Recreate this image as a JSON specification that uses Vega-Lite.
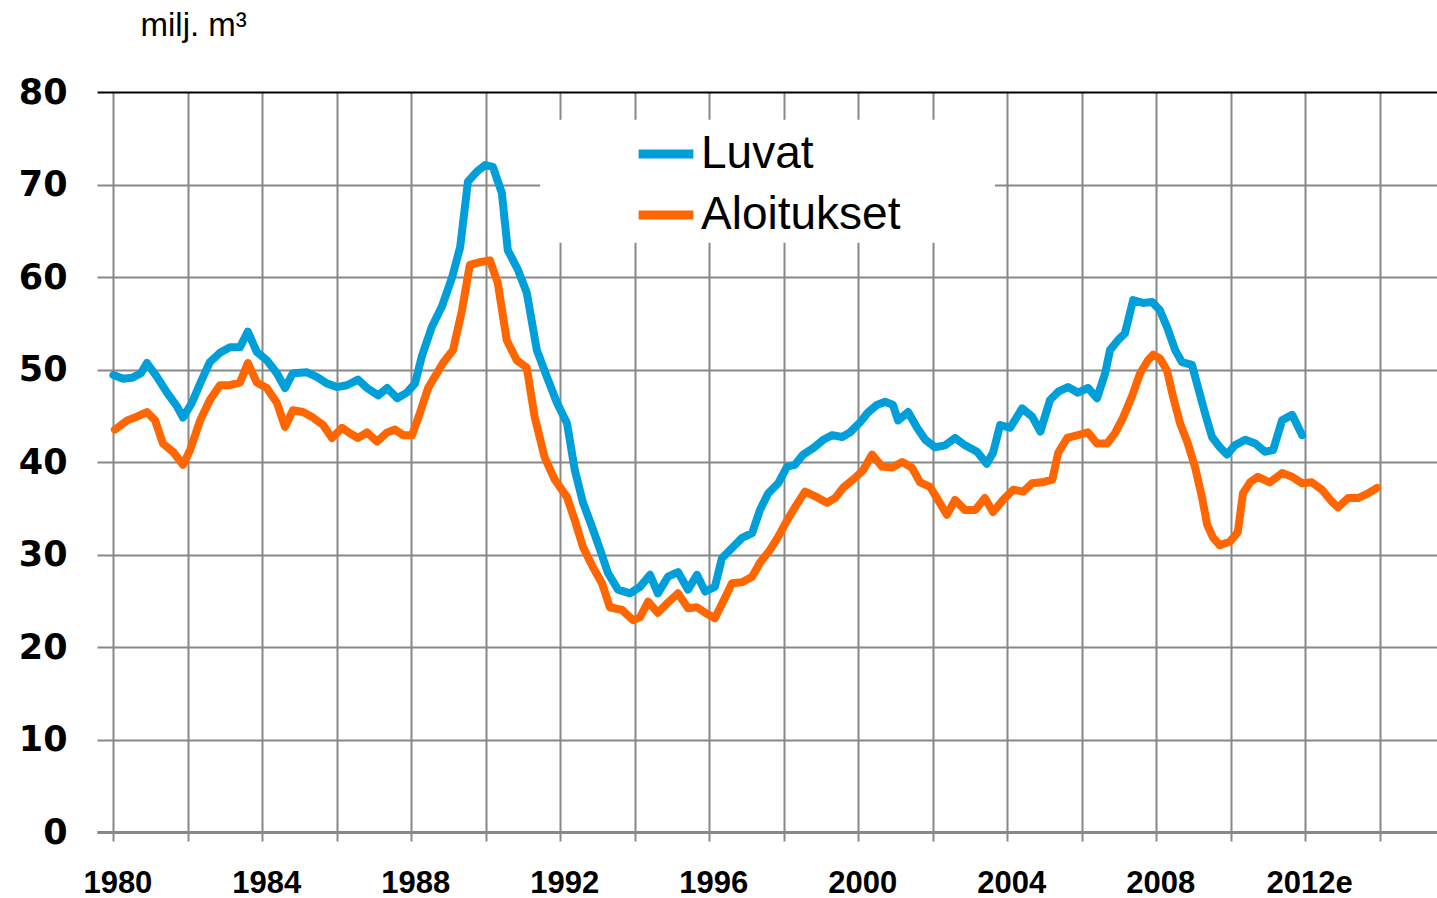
{
  "$schema": "https://vega.github.io/schema/vega-lite/v6.json",
  "width": 1340,
  "height": 740,
  "autosize": "none",
  "padding": {"left": 97, "top": 92, "right": 0, "bottom": 66},
  "background": "white",
  "config": {"view": {"stroke": null}},
  "layer": [
    {
      "data": {"values": [
        {"s":"Luvat","t":1980.00,"v":49.4},{"s":"Luvat","t":1980.26,"v":49.0},{"s":"Luvat","t":1980.50,"v":49.1},{"s":"Luvat","t":1980.74,"v":49.6},{"s":"Luvat","t":1980.90,"v":50.7},{"s":"Luvat","t":1981.17,"v":49.2},{"s":"Luvat","t":1981.44,"v":47.5},{"s":"Luvat","t":1981.71,"v":46.0},{"s":"Luvat","t":1981.87,"v":44.8},{"s":"Luvat","t":1982.11,"v":46.4},{"s":"Luvat","t":1982.33,"v":48.5},{"s":"Luvat","t":1982.59,"v":50.8},{"s":"Luvat","t":1982.86,"v":51.8},{"s":"Luvat","t":1983.13,"v":52.4},{"s":"Luvat","t":1983.40,"v":52.4},{"s":"Luvat","t":1983.61,"v":54.1},{"s":"Luvat","t":1983.85,"v":51.9},{"s":"Luvat","t":1984.12,"v":51.0},{"s":"Luvat","t":1984.39,"v":49.6},{"s":"Luvat","t":1984.61,"v":48.0},{"s":"Luvat","t":1984.82,"v":49.6},{"s":"Luvat","t":1985.20,"v":49.7},{"s":"Luvat","t":1985.46,"v":49.2},{"s":"Luvat","t":1985.73,"v":48.5},{"s":"Luvat","t":1986.00,"v":48.1},{"s":"Luvat","t":1986.27,"v":48.3},{"s":"Luvat","t":1986.57,"v":48.9},{"s":"Luvat","t":1986.81,"v":48.0},{"s":"Luvat","t":1987.11,"v":47.2},{"s":"Luvat","t":1987.35,"v":48.0},{"s":"Luvat","t":1987.62,"v":46.9},{"s":"Luvat","t":1987.88,"v":47.5},{"s":"Luvat","t":1988.10,"v":48.5},{"s":"Luvat","t":1988.28,"v":51.4},{"s":"Luvat","t":1988.55,"v":54.6},{"s":"Luvat","t":1988.82,"v":56.8},{"s":"Luvat","t":1989.09,"v":59.9},{"s":"Luvat","t":1989.31,"v":63.2},{"s":"Luvat","t":1989.52,"v":70.3},{"s":"Luvat","t":1989.76,"v":71.4},{"s":"Luvat","t":1989.98,"v":72.1},{"s":"Luvat","t":1990.19,"v":71.9},{"s":"Luvat","t":1990.43,"v":69.1},{"s":"Luvat","t":1990.59,"v":62.9},{"s":"Luvat","t":1990.86,"v":60.8},{"s":"Luvat","t":1991.10,"v":58.3},{"s":"Luvat","t":1991.37,"v":52.1},{"s":"Luvat","t":1991.64,"v":49.2},{"s":"Luvat","t":1991.91,"v":46.4},{"s":"Luvat","t":1992.18,"v":44.2},{"s":"Luvat","t":1992.39,"v":39.1},{"s":"Luvat","t":1992.61,"v":35.6},{"s":"Luvat","t":1992.85,"v":33.0},{"s":"Luvat","t":1993.07,"v":30.5},{"s":"Luvat","t":1993.28,"v":28.0},{"s":"Luvat","t":1993.55,"v":26.2},{"s":"Luvat","t":1993.87,"v":25.8},{"s":"Luvat","t":1994.14,"v":26.5},{"s":"Luvat","t":1994.41,"v":27.8},{"s":"Luvat","t":1994.62,"v":25.8},{"s":"Luvat","t":1994.89,"v":27.6},{"s":"Luvat","t":1995.16,"v":28.1},{"s":"Luvat","t":1995.43,"v":26.2},{"s":"Luvat","t":1995.67,"v":27.8},{"s":"Luvat","t":1995.89,"v":26.0},{"s":"Luvat","t":1996.15,"v":26.5},{"s":"Luvat","t":1996.34,"v":29.6},{"s":"Luvat","t":1996.61,"v":30.7},{"s":"Luvat","t":1996.88,"v":31.8},{"s":"Luvat","t":1997.15,"v":32.3},{"s":"Luvat","t":1997.36,"v":34.8},{"s":"Luvat","t":1997.58,"v":36.6},{"s":"Luvat","t":1997.85,"v":37.7},{"s":"Luvat","t":1998.09,"v":39.5},{"s":"Luvat","t":1998.30,"v":39.7},{"s":"Luvat","t":1998.52,"v":40.8},{"s":"Luvat","t":1998.79,"v":41.5},{"s":"Luvat","t":1999.06,"v":42.4},{"s":"Luvat","t":1999.30,"v":42.9},{"s":"Luvat","t":1999.57,"v":42.7},{"s":"Luvat","t":1999.78,"v":43.2},{"s":"Luvat","t":2000.05,"v":44.3},{"s":"Luvat","t":2000.27,"v":45.4},{"s":"Luvat","t":2000.51,"v":46.2},{"s":"Luvat","t":2000.72,"v":46.5},{"s":"Luvat","t":2000.93,"v":46.2},{"s":"Luvat","t":2001.07,"v":44.5},{"s":"Luvat","t":2001.34,"v":45.4},{"s":"Luvat","t":2001.58,"v":43.7},{"s":"Luvat","t":2001.80,"v":42.4},{"s":"Luvat","t":2002.06,"v":41.6},{"s":"Luvat","t":2002.33,"v":41.8},{"s":"Luvat","t":2002.60,"v":42.6},{"s":"Luvat","t":2002.87,"v":41.8},{"s":"Luvat","t":2003.19,"v":41.1},{"s":"Luvat","t":2003.45,"v":39.8},{"s":"Luvat","t":2003.62,"v":41.0},{"s":"Luvat","t":2003.81,"v":44.0},{"s":"Luvat","t":2004.08,"v":43.7},{"s":"Luvat","t":2004.40,"v":45.8},{"s":"Luvat","t":2004.67,"v":44.9},{"s":"Luvat","t":2004.89,"v":43.3},{"s":"Luvat","t":2005.15,"v":46.7},{"s":"Luvat","t":2005.37,"v":47.6},{"s":"Luvat","t":2005.63,"v":48.1},{"s":"Luvat","t":2005.90,"v":47.5},{"s":"Luvat","t":2006.17,"v":48.0},{"s":"Luvat","t":2006.41,"v":46.9},{"s":"Luvat","t":2006.63,"v":49.6},{"s":"Luvat","t":2006.76,"v":52.1},{"s":"Luvat","t":2006.98,"v":53.2},{"s":"Luvat","t":2007.16,"v":53.9},{"s":"Luvat","t":2007.38,"v":57.5},{"s":"Luvat","t":2007.65,"v":57.2},{"s":"Luvat","t":2007.89,"v":57.3},{"s":"Luvat","t":2008.10,"v":56.4},{"s":"Luvat","t":2008.29,"v":54.6},{"s":"Luvat","t":2008.51,"v":52.1},{"s":"Luvat","t":2008.69,"v":50.8},{"s":"Luvat","t":2008.96,"v":50.5},{"s":"Luvat","t":2009.12,"v":48.1},{"s":"Luvat","t":2009.31,"v":45.3},{"s":"Luvat","t":2009.50,"v":42.7},{"s":"Luvat","t":2009.71,"v":41.6},{"s":"Luvat","t":2009.90,"v":40.8},{"s":"Luvat","t":2010.11,"v":41.8},{"s":"Luvat","t":2010.39,"v":42.4},{"s":"Luvat","t":2010.66,"v":42.0},{"s":"Luvat","t":2010.92,"v":41.1},{"s":"Luvat","t":2011.14,"v":41.3},{"s":"Luvat","t":2011.38,"v":44.5},{"s":"Luvat","t":2011.65,"v":45.1},{"s":"Luvat","t":2011.92,"v":42.9},
        {"s":"Aloitukset","t":1980.04,"v":43.5},{"s":"Aloitukset","t":1980.37,"v":44.5},{"s":"Aloitukset","t":1980.63,"v":44.9},{"s":"Aloitukset","t":1980.90,"v":45.4},{"s":"Aloitukset","t":1981.12,"v":44.5},{"s":"Aloitukset","t":1981.33,"v":42.0},{"s":"Aloitukset","t":1981.60,"v":41.1},{"s":"Aloitukset","t":1981.87,"v":39.7},{"s":"Aloitukset","t":1982.06,"v":41.3},{"s":"Aloitukset","t":1982.33,"v":44.5},{"s":"Aloitukset","t":1982.59,"v":46.7},{"s":"Aloitukset","t":1982.86,"v":48.3},{"s":"Aloitukset","t":1983.13,"v":48.3},{"s":"Aloitukset","t":1983.40,"v":48.6},{"s":"Aloitukset","t":1983.61,"v":50.7},{"s":"Aloitukset","t":1983.85,"v":48.6},{"s":"Aloitukset","t":1984.12,"v":48.0},{"s":"Aloitukset","t":1984.39,"v":46.4},{"s":"Aloitukset","t":1984.61,"v":43.8},{"s":"Aloitukset","t":1984.82,"v":45.6},{"s":"Aloitukset","t":1985.09,"v":45.4},{"s":"Aloitukset","t":1985.36,"v":44.8},{"s":"Aloitukset","t":1985.63,"v":44.0},{"s":"Aloitukset","t":1985.87,"v":42.6},{"s":"Aloitukset","t":1986.14,"v":43.7},{"s":"Aloitukset","t":1986.35,"v":43.1},{"s":"Aloitukset","t":1986.57,"v":42.6},{"s":"Aloitukset","t":1986.81,"v":43.2},{"s":"Aloitukset","t":1987.08,"v":42.2},{"s":"Aloitukset","t":1987.35,"v":43.2},{"s":"Aloitukset","t":1987.56,"v":43.5},{"s":"Aloitukset","t":1987.78,"v":42.9},{"s":"Aloitukset","t":1988.02,"v":42.9},{"s":"Aloitukset","t":1988.23,"v":45.3},{"s":"Aloitukset","t":1988.45,"v":48.0},{"s":"Aloitukset","t":1988.85,"v":50.7},{"s":"Aloitukset","t":1989.12,"v":52.1},{"s":"Aloitukset","t":1989.36,"v":56.4},{"s":"Aloitukset","t":1989.57,"v":61.3},{"s":"Aloitukset","t":1989.84,"v":61.6},{"s":"Aloitukset","t":1990.11,"v":61.8},{"s":"Aloitukset","t":1990.32,"v":59.4},{"s":"Aloitukset","t":1990.56,"v":53.2},{"s":"Aloitukset","t":1990.83,"v":51.0},{"s":"Aloitukset","t":1991.10,"v":50.2},{"s":"Aloitukset","t":1991.31,"v":44.9},{"s":"Aloitukset","t":1991.58,"v":40.5},{"s":"Aloitukset","t":1991.85,"v":38.1},{"s":"Aloitukset","t":1992.18,"v":36.2},{"s":"Aloitukset","t":1992.39,"v":33.7},{"s":"Aloitukset","t":1992.61,"v":30.8},{"s":"Aloitukset","t":1992.88,"v":28.6},{"s":"Aloitukset","t":1993.12,"v":26.9},{"s":"Aloitukset","t":1993.33,"v":24.3},{"s":"Aloitukset","t":1993.66,"v":24.0},{"s":"Aloitukset","t":1993.95,"v":22.9},{"s":"Aloitukset","t":1994.14,"v":23.2},{"s":"Aloitukset","t":1994.36,"v":24.9},{"s":"Aloitukset","t":1994.62,"v":23.7},{"s":"Aloitukset","t":1994.89,"v":24.8},{"s":"Aloitukset","t":1995.16,"v":25.8},{"s":"Aloitukset","t":1995.43,"v":24.2},{"s":"Aloitukset","t":1995.67,"v":24.3},{"s":"Aloitukset","t":1995.89,"v":23.7},{"s":"Aloitukset","t":1996.15,"v":23.1},{"s":"Aloitukset","t":1996.37,"v":24.9},{"s":"Aloitukset","t":1996.61,"v":26.9},{"s":"Aloitukset","t":1996.88,"v":27.0},{"s":"Aloitukset","t":1997.15,"v":27.6},{"s":"Aloitukset","t":1997.36,"v":29.1},{"s":"Aloitukset","t":1997.63,"v":30.5},{"s":"Aloitukset","t":1997.85,"v":31.9},{"s":"Aloitukset","t":1998.09,"v":33.7},{"s":"Aloitukset","t":1998.30,"v":35.1},{"s":"Aloitukset","t":1998.57,"v":36.8},{"s":"Aloitukset","t":1998.89,"v":36.2},{"s":"Aloitukset","t":1999.16,"v":35.6},{"s":"Aloitukset","t":1999.38,"v":36.1},{"s":"Aloitukset","t":1999.59,"v":37.2},{"s":"Aloitukset","t":1999.86,"v":38.1},{"s":"Aloitukset","t":2000.13,"v":39.1},{"s":"Aloitukset","t":2000.37,"v":40.8},{"s":"Aloitukset","t":2000.64,"v":39.5},{"s":"Aloitukset","t":2000.91,"v":39.4},{"s":"Aloitukset","t":2001.18,"v":40.0},{"s":"Aloitukset","t":2001.44,"v":39.4},{"s":"Aloitukset","t":2001.66,"v":37.8},{"s":"Aloitukset","t":2001.93,"v":37.3},{"s":"Aloitukset","t":2002.14,"v":35.9},{"s":"Aloitukset","t":2002.38,"v":34.3},{"s":"Aloitukset","t":2002.60,"v":35.9},{"s":"Aloitukset","t":2002.87,"v":34.8},{"s":"Aloitukset","t":2003.14,"v":34.8},{"s":"Aloitukset","t":2003.40,"v":36.1},{"s":"Aloitukset","t":2003.62,"v":34.6},{"s":"Aloitukset","t":2003.89,"v":35.9},{"s":"Aloitukset","t":2004.16,"v":37.0},{"s":"Aloitukset","t":2004.43,"v":36.8},{"s":"Aloitukset","t":2004.67,"v":37.7},{"s":"Aloitukset","t":2004.94,"v":37.8},{"s":"Aloitukset","t":2005.21,"v":38.1},{"s":"Aloitukset","t":2005.37,"v":41.0},{"s":"Aloitukset","t":2005.61,"v":42.6},{"s":"Aloitukset","t":2005.90,"v":42.9},{"s":"Aloitukset","t":2006.17,"v":43.2},{"s":"Aloitukset","t":2006.41,"v":42.0},{"s":"Aloitukset","t":2006.68,"v":42.0},{"s":"Aloitukset","t":2006.89,"v":43.1},{"s":"Aloitukset","t":2007.11,"v":44.8},{"s":"Aloitukset","t":2007.35,"v":47.1},{"s":"Aloitukset","t":2007.57,"v":49.6},{"s":"Aloitukset","t":2007.78,"v":51.0},{"s":"Aloitukset","t":2007.92,"v":51.6},{"s":"Aloitukset","t":2008.10,"v":51.2},{"s":"Aloitukset","t":2008.29,"v":49.9},{"s":"Aloitukset","t":2008.45,"v":47.1},{"s":"Aloitukset","t":2008.64,"v":44.2},{"s":"Aloitukset","t":2008.85,"v":42.0},{"s":"Aloitukset","t":2009.04,"v":39.5},{"s":"Aloitukset","t":2009.23,"v":36.2},{"s":"Aloitukset","t":2009.37,"v":33.2},{"s":"Aloitukset","t":2009.53,"v":31.8},{"s":"Aloitukset","t":2009.71,"v":31.0},{"s":"Aloitukset","t":2009.98,"v":31.4},{"s":"Aloitukset","t":2010.19,"v":32.4},{"s":"Aloitukset","t":2010.33,"v":36.6},{"s":"Aloitukset","t":2010.52,"v":37.8},{"s":"Aloitukset","t":2010.73,"v":38.4},{"s":"Aloitukset","t":2011.05,"v":37.8},{"s":"Aloitukset","t":2011.38,"v":38.8},{"s":"Aloitukset","t":2011.65,"v":38.4},{"s":"Aloitukset","t":2011.92,"v":37.7},{"s":"Aloitukset","t":2012.18,"v":37.8},{"s":"Aloitukset","t":2012.45,"v":37.0},{"s":"Aloitukset","t":2012.72,"v":35.7},{"s":"Aloitukset","t":2012.88,"v":35.1},{"s":"Aloitukset","t":2013.15,"v":36.1},{"s":"Aloitukset","t":2013.42,"v":36.1},{"s":"Aloitukset","t":2013.69,"v":36.6},{"s":"Aloitukset","t":2013.93,"v":37.2}
      ]},
      "mark": {"type": "line", "strokeWidth": 8, "strokeCap": "round", "strokeJoin": "round"},
      "encoding": {
        "x": {
          "field": "t", "type": "quantitative",
          "scale": {"domain": [1979.56, 2015.54], "nice": false, "zero": false},
          "axis": {
            "values": [1980,1982,1984,1986,1988,1990,1992,1994,1996,1998,2000,2002,2004,2006,2008,2010,2012,2014],
            "labelExpr": "datum.value == 2012 ? '2012e' : (datum.value % 4 == 0 ? '' + datum.value : '')",
            "grid": true, "gridColor": "#888888", "gridWidth": 2,
            "domain": true, "domainColor": "#888888", "domainWidth": 3,
            "ticks": true, "tickSize": 9, "tickColor": "#888888", "tickWidth": 2,
            "labelFont": "Liberation Sans", "labelFontWeight": "bold", "labelFontSize": 31, "labelColor": "black",
            "labelPadding": 27, "labelOffset": 4, "labelOverlap": false, "labelFlush": false,
            "title": null
          }
        },
        "y": {
          "field": "v", "type": "quantitative",
          "scale": {"domain": [0, 80], "nice": false},
          "axis": {
            "values": [0,10,20,30,40,50,60,70,80],
            "grid": true,
            "gridColor": {"condition": {"test": "datum.value === 80", "value": "black"}, "value": "#888888"},
            "gridWidth": 2,
            "domain": false, "ticks": false,
            "labelPadding": 30, "labelFont": "DejaVu Sans", "labelFontWeight": "bold", "labelFontSize": 35, "labelColor": "black",
            "title": "milj. m³", "titleAngle": 0, "titleAlign": "left", "titleBaseline": "alphabetic",
            "titleX": 43, "titleY": -57, "titleFont": "Liberation Sans", "titleFontWeight": "normal", "titleFontSize": 33, "titleColor": "black"
          }
        },
        "color": {
          "field": "s", "type": "nominal",
          "scale": {"domain": ["Luvat", "Aloitukset"], "range": ["#009FDA", "#FF6600"]},
          "legend": {
            "orient": "none", "legendX": 537, "legendY": 30, "title": null,
            "symbolType": "stroke", "symbolStrokeWidth": 9, "symbolSize": 3000,
            "labelFont": "Liberation Sans", "labelFontSize": 46, "labelColor": "black", "labelLimit": 0,
            "rowPadding": 6, "labelOffset": 3, "padding": 0
          }
        }
      }
    },
    {
      "data": {"values": [{}]},
      "mark": {"type": "rect", "fill": "white"},
      "encoding": {
        "x": {"datum": 1991.46, "type": "quantitative"},
        "x2": {"datum": 2003.67},
        "y": {"datum": 77.0, "type": "quantitative"},
        "y2": {"datum": 63.7}
      }
    }
  ]
}
